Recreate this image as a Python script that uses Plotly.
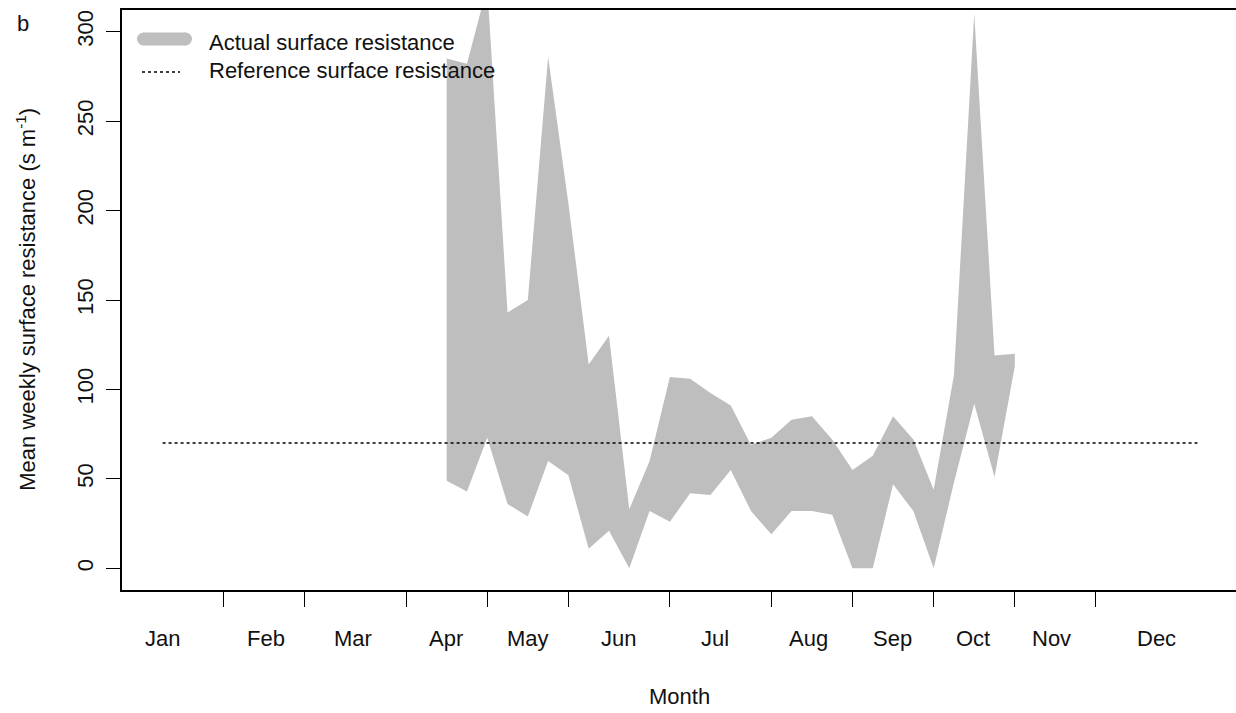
import plotly.graph_objects as go

# Weekly surface resistance range (s m^-1), weeks of the year
weeks = list(range(15, 44))
rs_upper = [285, 282, 325, 143, 150, 286, 204, 114, 130, 33, 60, 107, 106, 98, 91,
            69, 73, 83, 85, 72, 55, 63, 85, 72, 44, 108, 310, 119, 120]
rs_lower = [49, 43, 73, 36, 29, 60, 52, 11, 21, 0, 32, 26, 42, 41, 55,
            32, 19, 32, 32, 30, 0, 0, 47, 32, 0, 48, 92, 51, 113]

# Reference surface resistance
ref_weeks = [1, 52]
ref_value = 70

# Month boundaries (week index) and month label positions
month_tick_weeks = [4, 8, 13, 17, 21, 26, 31, 35, 39, 43, 47]
month_names = ["Jan", "Feb", "Mar", "Apr", "May", "Jun",
               "Jul", "Aug", "Sep", "Oct", "Nov", "Dec"]
month_label_weeks = [1, 6.1, 10.4, 14.95, 19, 23.45, 28.2, 32.85, 36.95, 40.95, 44.8, 50]
y_ticks = [0, 50, 100, 150, 200, 250, 300]

W, H = 1236, 713
ML, MR, MT, MB = 122, 0, 10, 122.5
PW, PH = W - ML - MR, H - MT - MB
FONT = "Liberation Sans, Arial, sans-serif"
FS = 22
GREY = "rgb(190,190,190)"
INK = "#111111"


def px(x):
    return (x - ML) / PW


def py(y):
    return (H - MB - y) / PH


fig = go.Figure()

fig.add_trace(go.Scatter(
    x=weeks + weeks[::-1],
    y=rs_upper + rs_lower[::-1],
    fill="toself", fillcolor=GREY,
    mode="lines", line=dict(width=0, color=GREY),
    hoverinfo="skip", showlegend=False,
))

fig.add_trace(go.Scatter(
    x=ref_weeks, y=[ref_value] * len(ref_weeks),
    mode="lines", line=dict(color="black", width=1.5, dash="dot"),
    hoverinfo="skip", showlegend=False,
))

shapes = [
    # legend key: thick rounded grey line
    dict(type="rect", xref="paper", yref="paper",
         x0=px(143.5), x1=px(185.5), y0=py(45.5), y1=py(32.5),
         fillcolor=GREY, line=dict(width=0)),
    dict(type="circle", xref="paper", yref="paper",
         x0=px(137), x1=px(150), y0=py(45.5), y1=py(32.5),
         fillcolor=GREY, line=dict(width=0)),
    dict(type="circle", xref="paper", yref="paper",
         x0=px(179), x1=px(192), y0=py(45.5), y1=py(32.5),
         fillcolor=GREY, line=dict(width=0)),
    # legend key: dotted line
    dict(type="line", xref="paper", yref="paper",
         x0=px(142), x1=px(180), y0=py(72), y1=py(72),
         line=dict(color="black", width=1.5, dash="dot")),
]

annotations = [
    dict(text="Actual surface resistance", xref="paper", yref="paper",
         x=px(207), y=py(42.3), xanchor="left", yanchor="middle", showarrow=False),
    dict(text="Reference surface resistance", xref="paper", yref="paper",
         x=px(207), y=py(70.6), xanchor="left", yanchor="middle", showarrow=False),
    dict(text="b", xref="paper", yref="paper",
         x=px(22.5), y=py(24), xanchor="center", yanchor="middle", showarrow=False),
    dict(text="Month", xref="paper", yref="paper",
         x=0.5, y=py(697.3), xanchor="center", yanchor="middle", showarrow=False),
    dict(text="Mean weekly surface resistance (s m<sup>-1</sup>)", xref="paper", yref="paper",
         x=px(26), y=py(300), xanchor="center", yanchor="middle",
         textangle=-90, showarrow=False),
]
for name, pos in zip(month_names, month_label_weeks):
    annotations.append(dict(text=name, xref="x", yref="paper", x=pos, y=py(639),
                            xanchor="center", yanchor="middle", showarrow=False))

fig.update_layout(
    width=W, height=H,
    margin=dict(l=ML, r=MR, t=MT, b=MB, pad=0),
    paper_bgcolor="white", plot_bgcolor="white",
    font=dict(family=FONT, size=FS, color=INK),
    showlegend=False,
    shapes=shapes,
    annotations=annotations,
    xaxis=dict(
        range=[-1.0, 53.9], showgrid=False, zeroline=False,
        showline=True, mirror=True, linecolor="black", linewidth=1.5,
        tickmode="array", tickvals=month_tick_weeks, showticklabels=False,
        ticks="outside", ticklen=15, tickwidth=1.2, tickcolor="black",
    ),
    yaxis=dict(
        range=[-12.1, 312.1], showgrid=False, zeroline=False,
        showline=True, linecolor="black", linewidth=1.5,
        tickmode="array", tickvals=y_ticks, tickangle=-90,
        ticks="outside", ticklen=14, tickwidth=1.2, tickcolor="black",
        ticklabelstandoff=4,
        tickfont=dict(size=FS, color=INK),
    ),
)

fig.write_html("out.html")
